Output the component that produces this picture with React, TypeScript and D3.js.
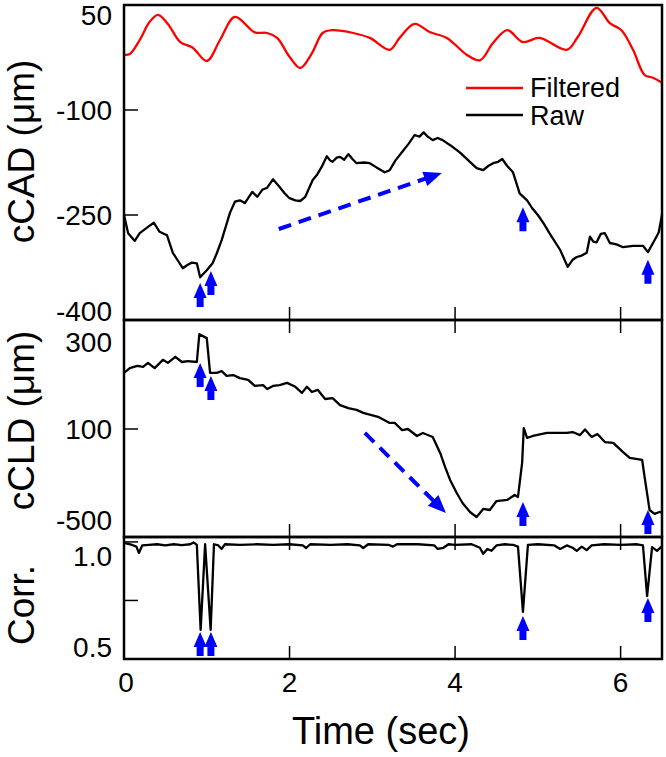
import React from "react";
import * as d3 from "d3";

// ---------- DATA ----------
const xTicks = [0, 2, 4, 6];

const cadTickLabels = [50, -100, -250, -400];
const cadTickMarks = [-100, -250];
const cldTickLabels = [300, 100, -500];
const cldTickMarks = [100];
const corrTickLabels = ["1.0", "0.5"];
const corrTickLabelValues = [1.0, 0.5];
const corrTickMarks = [1.0, 0.75];

const cadFiltered: [number, number][] = [
  [0, -21], [0.07, -20], [0.19, 0], [0.31, 26], [0.41, 36], [0.53, 23], [0.68, -3], [0.83, -11],
  [1.0, -30], [1.16, 0], [1.34, 33], [1.58, 11], [1.73, 10], [1.85, 3], [2.0, -24], [2.13, -40],
  [2.27, -19], [2.4, 10], [2.52, 14], [2.77, 10], [2.97, 3], [3.21, -14], [3.33, 3], [3.51, 23],
  [3.7, 11], [3.9, 3], [4.14, -21], [4.3, -29], [4.46, -4], [4.63, 14], [4.82, -3], [5.02, 3],
  [5.35, -14], [5.48, 4], [5.71, 46], [5.87, 24], [6.01, 14], [6.15, -14], [6.29, -50], [6.39, -54],
  [6.5, -61],
];

const cadRaw: [number, number][] = [
  [0, -250], [0.05, -276], [0.13, -287], [0.19, -276], [0.29, -267], [0.36, -261], [0.43, -274],
  [0.52, -279], [0.59, -304], [0.65, -315], [0.71, -326], [0.77, -321], [0.82, -318], [0.88, -319],
  [0.92, -339], [1.0, -329], [1.07, -319], [1.12, -305], [1.18, -286], [1.28, -247], [1.34, -231],
  [1.4, -229], [1.46, -233], [1.55, -217], [1.61, -224], [1.67, -214], [1.73, -211], [1.8, -199],
  [1.88, -210], [1.94, -219], [2.0, -226], [2.07, -229], [2.13, -230], [2.19, -224], [2.28, -200],
  [2.33, -193], [2.39, -181], [2.45, -166], [2.49, -172], [2.52, -174], [2.57, -168], [2.61, -167],
  [2.66, -171], [2.71, -163], [2.76, -170], [2.81, -176], [2.9, -175], [2.97, -176], [3.05, -182],
  [3.15, -189], [3.21, -186], [3.28, -172], [3.36, -160], [3.44, -148], [3.51, -136], [3.57, -138],
  [3.62, -132], [3.67, -138], [3.73, -143], [3.79, -140], [3.85, -143], [3.95, -151], [4.06, -161],
  [4.16, -172], [4.26, -183], [4.34, -186], [4.4, -180], [4.46, -176], [4.52, -174], [4.57, -170],
  [4.63, -180], [4.7, -189], [4.74, -204], [4.78, -219], [4.87, -229], [4.93, -240], [5.0, -250],
  [5.07, -262], [5.14, -276], [5.2, -287], [5.27, -300], [5.36, -324], [5.42, -314], [5.47, -310],
  [5.53, -308], [5.59, -304], [5.63, -281], [5.67, -288], [5.71, -289], [5.76, -277], [5.81, -276],
  [5.87, -290], [5.95, -292], [6.03, -296], [6.15, -294], [6.27, -294], [6.33, -303], [6.41, -286],
  [6.46, -275], [6.5, -250],
];

const cldRaw: [number, number][] = [
  [0, 229], [0.07, 240], [0.16, 245], [0.23, 243], [0.29, 252], [0.37, 240], [0.47, 259], [0.53, 252],
  [0.62, 266], [0.7, 254], [0.77, 256], [0.88, 254], [0.91, 318], [1.0, 309], [1.04, 229], [1.12, 229],
  [1.18, 233], [1.24, 222], [1.32, 224], [1.4, 217], [1.5, 213], [1.58, 199], [1.68, 201], [1.73, 192],
  [1.8, 199], [1.88, 201], [1.97, 206], [2.07, 197], [2.15, 183], [2.21, 197], [2.27, 185], [2.34, 190],
  [2.43, 169], [2.52, 171], [2.61, 155], [2.71, 148], [2.81, 144], [2.89, 137], [3.07, 128], [3.21, 114],
  [3.27, 114], [3.36, 93], [3.43, 100], [3.54, 54], [3.61, 74], [3.73, 47], [3.82, -58], [3.88, -151],
  [3.94, -236], [4.02, -322], [4.09, -388], [4.18, -447], [4.26, -480], [4.34, -427], [4.42, -434],
  [4.5, -375], [4.63, -368], [4.72, -335], [4.76, -348], [4.81, -124], [4.83, 102], [4.87, 41],
  [4.94, 54], [5.11, 74], [5.35, 74], [5.42, 80], [5.51, 60], [5.57, 97], [5.65, 47], [5.72, 67],
  [5.81, 14], [5.91, 8], [6.03, -52], [6.11, -91], [6.26, -104], [6.29, -217], [6.35, -434],
  [6.41, -460], [6.47, -447], [6.51, -454],
];

const corr: [number, number][] = [
  [0, 0.996], [0.1, 0.987], [0.15, 0.98], [0.18, 0.953], [0.22, 0.985], [0.3, 0.987], [0.4, 0.99],
  [0.5, 0.985], [0.6, 0.99], [0.7, 0.986], [0.8, 0.99], [0.84, 0.998], [0.88, 0.987], [0.926, 0.624],
  [0.98, 0.99], [1.047, 0.624], [1.087, 0.99], [1.14, 0.985], [1.18, 0.97], [1.22, 0.99], [1.4, 0.987],
  [1.6, 0.99], [1.8, 0.987], [2.0, 0.99], [2.16, 0.985], [2.2, 0.974], [2.25, 0.99], [2.5, 0.987],
  [2.7, 0.99], [2.85, 0.985], [2.89, 0.974], [2.95, 0.99], [3.2, 0.987], [3.25, 0.98], [3.3, 0.99],
  [3.55, 0.99], [3.75, 0.985], [3.79, 0.97], [3.86, 0.975], [3.92, 0.99], [4.0, 0.987], [4.2, 0.99],
  [4.3, 0.975], [4.34, 0.949], [4.39, 0.97], [4.44, 0.962], [4.5, 0.985], [4.6, 0.99], [4.7, 0.987],
  [4.76, 0.98], [4.82, 0.701], [4.88, 0.987], [5.0, 0.99], [5.2, 0.985], [5.27, 0.97], [5.35, 0.985],
  [5.42, 0.975], [5.47, 0.962], [5.53, 0.98], [5.59, 0.965], [5.65, 0.985], [5.8, 0.99], [6.0, 0.987],
  [6.2, 0.99], [6.27, 0.985], [6.32, 0.769], [6.38, 0.978], [6.44, 0.962], [6.5, 0.982],
];

// event arrows (time, tip value per panel)
const eventTimes = [0.92, 1.05, 4.82, 6.33];
const cadArrowTips = [-347, -330, -239, -314];
const cldArrowTips = [252, 222, -381, -434];
const corrArrowTips = [0.615, 0.615, 0.684, 0.761];

// dashed trend arrows [t0, v0, t1, v1]
const cadTrend = [1.87, -270, 3.84, -190];
const cldTrend = [2.91, 74, 3.89, -454];

const legendItems = ["Filtered", "Raw"];

// ---------- LAYOUT ----------
const W = 666;
const H = 757;
const L = 124;
const R = 662;
const topP = { top: 5, bottom: 320 };
const midP = { top: 320, bottom: 537 };
const botP = { top: 537, bottom: 659 };
const FONT = "'Liberation Sans', Arial, Helvetica, sans-serif";
const TICK_FS = 28;
const TITLE_FS = 37;
const BLUE = "#0000ff";
const RED = "#ff0000";

const x = d3.scaleLinear().domain([0, 6.5]).range([L, R]);
const yTop = d3.scaleLinear().domain([-400, 50]).range([topP.bottom, topP.top]);
const yMid = d3.scaleLinear().domain([-619, -500, 100, 300, 351]).range([midP.bottom, 520, 429, 342, midP.top]);
const yBot = d3.scaleLinear().domain([0.5, 1.021]).range([botP.bottom, botP.top]);

function lineOf(data: [number, number][], y: (v: number) => number, curve: d3.CurveFactory = d3.curveLinear) {
  return d3.line<[number, number]>().x((d) => x(d[0])).y((d) => y(d[1])).curve(curve)(data) || "";
}

function upArrow(cx: number, tipY: number) {
  const hw = 6.5, hh = 15, sw = 3.5, len = 24;
  return `M${cx},${tipY} L${cx + hw},${tipY + hh} L${cx + sw},${tipY + hh} L${cx + sw},${tipY + len} L${cx - sw},${tipY + len} L${cx - sw},${tipY + hh} L${cx - hw},${tipY + hh} Z`;
}

function TrendArrow({ t, y }: { t: number[]; y: (v: number) => number }) {
  const x0 = x(t[0]), y0 = y(t[1]), x1 = x(t[2]), y1 = y(t[3]);
  const ang = Math.atan2(y1 - y0, x1 - x0);
  const hl = 18, hw = 7.5;
  const bx = x1 - hl * Math.cos(ang), by = y1 - hl * Math.sin(ang);
  const px = -Math.sin(ang), py = Math.cos(ang);
  const head = `M${x1},${y1} L${bx + hw * px},${by + hw * py} L${bx - hw * px},${by - hw * py} Z`;
  return (
    <g>
      <line x1={x0} y1={y0} x2={bx + 2 * Math.cos(ang)} y2={by + 2 * Math.sin(ang)} stroke={BLUE} strokeWidth={4} strokeDasharray="13,8" />
      <path d={head} fill={BLUE} />
    </g>
  );
}

function YLabels({ labels, values, y, pane, padTop, padBottom }: any) {
  return (
    <g>
      {labels.map((lab: any, i: number) => {
        const v = values[i];
        const c = Math.min(Math.max(y(v), pane.top + padTop), pane.bottom - padBottom);
        return (
          <text key={i} x={112} y={c + TICK_FS * 0.358} textAnchor="end" fontSize={TICK_FS} fontFamily={FONT} fill="#000">
            {String(lab)}
          </text>
        );
      })}
    </g>
  );
}

function XTickMarks({ pane, top, bottom }: { pane: { top: number; bottom: number }; top: boolean; bottom: boolean }) {
  return (
    <g stroke="#000" strokeWidth={1.5}>
      {xTicks.filter((t) => t > 0).map((t) => (
        <g key={t}>
          {top && <line x1={x(t)} x2={x(t)} y1={pane.top} y2={pane.top + 13} />}
          {bottom && <line x1={x(t)} x2={x(t)} y1={pane.bottom} y2={pane.bottom - 13} />}
        </g>
      ))}
    </g>
  );
}

function YTickMarks({ values, y }: { values: number[]; y: (v: number) => number }) {
  return (
    <g stroke="#000" strokeWidth={1.5}>
      {values.map((v) => (
        <line key={v} x1={L} x2={L + 14} y1={y(v)} y2={y(v)} />
      ))}
    </g>
  );
}

export default function App() {
  return (
    <svg width={W} height={H} viewBox={`0 0 ${W} ${H}`} style={{ position: "absolute", left: 0, top: 0, background: "#fff" }}>
      <rect x={0} y={0} width={W} height={H} fill="#fff" />

      {/* ---- top panel ---- */}
      <path d={lineOf(cadFiltered, yTop, d3.curveCatmullRom.alpha(0.5))} fill="none" stroke={RED} strokeWidth={2.3} />
      <path d={lineOf(cadRaw, yTop)} fill="none" stroke="#000" strokeWidth={2.3} strokeLinejoin="round" />
      <TrendArrow t={cadTrend} y={yTop} />
      {eventTimes.map((t, i) => (
        <path key={"a1" + i} d={upArrow(x(t), yTop(cadArrowTips[i]))} fill={BLUE} />
      ))}
      <YTickMarks values={cadTickMarks} y={yTop} />
      <XTickMarks pane={topP} top={false} bottom={true} />
      <YLabels labels={cadTickLabels} values={cadTickLabels} y={yTop} pane={topP} padTop={10} padBottom={9} />

      {/* legend */}
      <g fontFamily={FONT} fontSize={27}>
        <line x1={466} x2={523} y1={88} y2={88} stroke={RED} strokeWidth={2.5} />
        <text x={530} y={97}>{legendItems[0]}</text>
        <line x1={466} x2={523} y1={115} y2={115} stroke="#000" strokeWidth={2.5} />
        <text x={530} y={125}>{legendItems[1]}</text>
      </g>

      {/* ---- middle panel ---- */}
      <path d={lineOf(cldRaw, yMid)} fill="none" stroke="#000" strokeWidth={2.3} strokeLinejoin="round" />
      <TrendArrow t={cldTrend} y={yMid} />
      {eventTimes.map((t, i) => (
        <path key={"a2" + i} d={upArrow(x(t), yMid(cldArrowTips[i]))} fill={BLUE} />
      ))}
      <YTickMarks values={cldTickMarks} y={yMid} />
      <XTickMarks pane={midP} top={true} bottom={true} />
      <YLabels labels={cldTickLabels} values={cldTickLabels} y={yMid} pane={midP} padTop={8} padBottom={9} />

      {/* ---- bottom panel ---- */}
      <path d={lineOf(corr, yBot)} fill="none" stroke="#000" strokeWidth={2.3} strokeLinejoin="round" />
      {eventTimes.map((t, i) => (
        <path key={"a3" + i} d={upArrow(x(t), yBot(corrArrowTips[i]))} fill={BLUE} />
      ))}
      <YTickMarks values={corrTickMarks} y={yBot} />
      <XTickMarks pane={botP} top={true} bottom={true} />
      <YLabels labels={corrTickLabels} values={corrTickLabelValues} y={yBot} pane={botP} padTop={19} padBottom={12} />

      {/* frames */}
      <g fill="none" stroke="#000" strokeWidth={2.5}>
        <rect x={L} y={topP.top} width={R - L} height={topP.bottom - topP.top} />
        <rect x={L} y={midP.top} width={R - L} height={midP.bottom - midP.top} />
        <rect x={L} y={botP.top} width={R - L} height={botP.bottom - botP.top} />
      </g>

      {/* x tick labels */}
      {xTicks.map((t) => (
        <text key={t} x={x(t) + (t === 0 ? 2 : 0)} y={692} textAnchor="middle" fontSize={TICK_FS} fontFamily={FONT}>
          {t}
        </text>
      ))}

      {/* axis titles */}
      <text x={(L + R) / 2 - 12} y={744} textAnchor="middle" fontSize={38} fontFamily={FONT}>Time (sec)</text>
      <text transform={`translate(34,${(topP.top + topP.bottom) / 2 - 11}) rotate(-90)`} textAnchor="middle" fontSize={TITLE_FS} fontFamily={FONT}>cCAD (μm)</text>
      <text transform={`translate(34,${(midP.top + midP.bottom) / 2 - 8}) rotate(-90)`} textAnchor="middle" fontSize={TITLE_FS} fontFamily={FONT}>cCLD (μm)</text>
      <text transform={`translate(34,${(botP.top + botP.bottom) / 2 + 7}) rotate(-90)`} textAnchor="middle" fontSize={TITLE_FS} fontFamily={FONT}>Corr.</text>
    </svg>
  );
}
